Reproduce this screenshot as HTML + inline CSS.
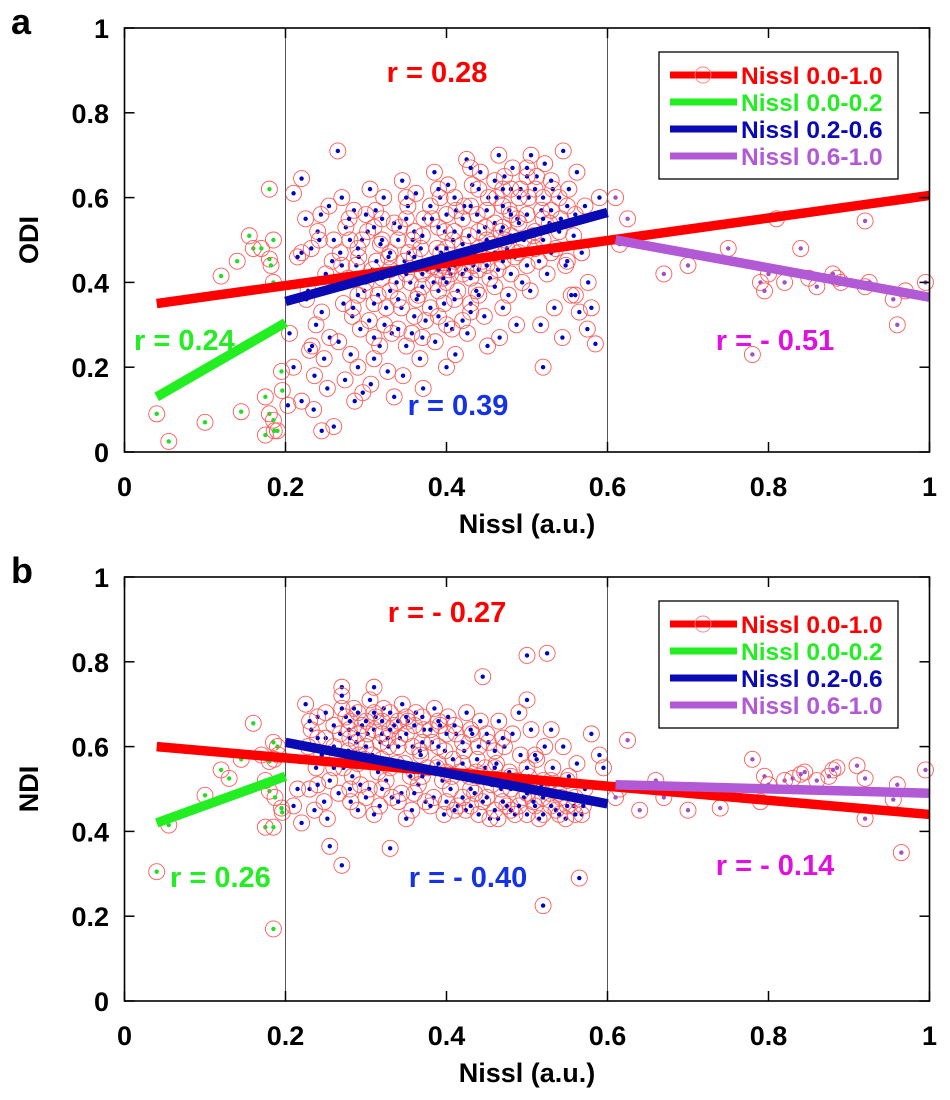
<!DOCTYPE html>
<html><head><meta charset="utf-8"><style>
html,body{margin:0;padding:0;background:#fff;}
svg{display:block;font-family:"Liberation Sans",Arial,sans-serif;}
.tk{font-size:27px;font-weight:bold;fill:#000;}
.lg{font-size:24.5px;font-weight:bold;}
.rl{font-size:29px;font-weight:bold;}
</style></head><body>
<svg id="chart" width="950" height="1100" viewBox="0 0 950 1100">
<rect width="950" height="1100" fill="#fff"/>
<g id="panelA"></g>
<g id="panelB"></g>
</svg>
<script>
// ---- data ----
const xTicks = [0, 0.2, 0.4, 0.6, 0.8, 1];
const yTicks = [0, 0.2, 0.4, 0.6, 0.8, 1];
const xTickLabels = ["0", "0.2", "0.4", "0.6", "0.8", "1"];
const yTickLabels = ["0", "0.2", "0.4", "0.6", "0.8", "1"];
const legendLabels = ["Nissl 0.0-1.0", "Nissl 0.0-0.2", "Nissl 0.2-0.6", "Nissl 0.6-1.0"];

const odiPoints = [
[0.04,0.09],[0.055,0.025],[0.1,0.07],[0.12,0.415],[0.14,0.45],[0.145,0.095],[0.155,0.51],[0.16,0.48],[0.17,0.48],[0.175,0.13],[0.18,0.62],[0.18,0.455],[0.182,0.44],[0.185,0.40],[0.18,0.09],[0.175,0.04],[0.186,0.05],[0.19,0.05],[0.185,0.5],[0.195,0.19],[0.196,0.145],[0.185,0.075],
[0.61,0.6],[0.625,0.55],[0.615,0.49],[0.67,0.42],[0.7,0.44],[0.75,0.48],[0.78,0.23],[0.79,0.4],[0.795,0.38],[0.80,0.42],[0.81,0.55],[0.82,0.4],[0.84,0.48],[0.85,0.41],[0.86,0.39],[0.88,0.42],[0.885,0.41],[0.89,0.40],[0.92,0.39],[0.925,0.40],[0.92,0.545],[0.955,0.36],[0.96,0.3],[0.97,0.38],[0.995,0.4],
[0.21,0.61],[0.22,0.645],[0.265,0.71],[0.22,0.47],[0.215,0.46],[0.205,0.28],[0.21,0.2],[0.203,0.11],[0.22,0.12],[0.235,0.1],[0.245,0.05],[0.26,0.06],[0.585,0.255],[0.52,0.2],[0.59,0.6],[0.56,0.37],[0.58,0.34],[0.575,0.29],
[0.225,0.55],[0.24,0.52],[0.232,0.48],[0.25,0.42],[0.228,0.38],[0.245,0.33],[0.238,0.30],[0.255,0.27],[0.23,0.24],[0.248,0.22],[0.236,0.18],[0.252,0.15],[0.242,0.5],[0.258,0.45],[0.226,0.36],[0.254,0.58],[0.244,0.56],[0.233,0.25],
[0.27,0.6],[0.285,0.57],[0.275,0.53],[0.295,0.5],[0.268,0.47],[0.288,0.44],[0.278,0.41],[0.298,0.38],[0.272,0.35],[0.283,0.32],[0.293,0.29],[0.266,0.26],[0.281,0.23],[0.29,0.2],[0.274,0.17],[0.296,0.14],[0.286,0.12],[0.279,0.55],[0.291,0.46],[0.269,0.4],[0.284,0.34],
[0.305,0.62],[0.322,0.6],[0.312,0.57],[0.335,0.54],[0.302,0.52],[0.318,0.49],[0.328,0.46],[0.308,0.43],[0.338,0.4],[0.315,0.37],[0.325,0.34],[0.304,0.31],[0.332,0.28],[0.317,0.25],[0.31,0.22],[0.327,0.19],[0.306,0.16],[0.335,0.13],[0.32,0.5],[0.313,0.45],[0.33,0.38],[0.323,0.3],
[0.345,0.64],[0.362,0.61],[0.352,0.58],[0.372,0.55],[0.342,0.53],[0.358,0.5],[0.368,0.48],[0.348,0.45],[0.376,0.43],[0.355,0.4],[0.365,0.37],[0.344,0.34],[0.374,0.31],[0.357,0.28],[0.35,0.25],[0.367,0.22],[0.346,0.18],[0.371,0.15],[0.36,0.52],[0.353,0.47],[0.37,0.42],[0.363,0.36],
[0.385,0.66],[0.402,0.63],[0.392,0.6],[0.412,0.57],[0.382,0.55],[0.398,0.52],[0.408,0.5],[0.388,0.48],[0.416,0.46],[0.395,0.44],[0.405,0.42],[0.384,0.4],[0.414,0.38],[0.397,0.35],[0.39,0.32],[0.407,0.29],[0.386,0.26],[0.411,0.23],[0.4,0.2],[0.393,0.47],[0.41,0.45],[0.403,0.43],[0.396,0.41],
[0.425,0.69],[0.442,0.66],[0.432,0.63],[0.452,0.6],[0.422,0.58],[0.438,0.56],[0.448,0.53],[0.428,0.51],[0.456,0.49],[0.435,0.47],[0.445,0.45],[0.424,0.43],[0.454,0.41],[0.437,0.38],[0.43,0.35],[0.447,0.32],[0.426,0.28],[0.451,0.25],[0.44,0.48],[0.433,0.44],
[0.465,0.7],[0.482,0.67],[0.472,0.65],[0.492,0.62],[0.462,0.6],[0.478,0.57],[0.488,0.55],[0.468,0.52],[0.496,0.5],[0.475,0.48],[0.485,0.46],[0.464,0.43],[0.494,0.4],[0.477,0.37],[0.47,0.34],[0.487,0.3],[0.466,0.27],[0.48,0.56],[0.473,0.5],
[0.505,0.7],[0.522,0.68],[0.512,0.65],[0.532,0.62],[0.502,0.6],[0.518,0.57],[0.528,0.54],[0.508,0.51],[0.536,0.48],[0.515,0.45],[0.525,0.42],[0.504,0.38],[0.534,0.34],[0.517,0.3],[0.52,0.55],
[0.545,0.71],[0.562,0.66],[0.552,0.62],[0.572,0.58],[0.542,0.55],[0.558,0.51],[0.568,0.47],[0.548,0.44],[0.576,0.4],[0.555,0.37],[0.565,0.33],[0.544,0.27]
];
const odiExtra = [
[0.3,0.56],[0.31,0.53],[0.32,0.41],[0.33,0.47],[0.34,0.5],[0.34,0.36],[0.35,0.55],[0.35,0.42],[0.36,0.46],[0.36,0.32],[0.37,0.51],[0.37,0.39],[0.38,0.58],[0.38,0.44],[0.38,0.34],[0.39,0.53],[0.39,0.43],[0.39,0.38],[0.4,0.56],[0.4,0.48],[0.4,0.4],[0.41,0.6],[0.41,0.52],[0.41,0.44],[0.41,0.36],[0.42,0.55],[0.42,0.49],[0.42,0.42],[0.42,0.31],[0.43,0.58],[0.43,0.46],[0.43,0.41],[0.44,0.62],[0.44,0.52],[0.44,0.43],[0.44,0.37],[0.45,0.57],[0.45,0.5],[0.45,0.44],[0.46,0.64],[0.46,0.54],[0.46,0.47],[0.46,0.39],[0.47,0.58],[0.47,0.53],[0.47,0.45],[0.48,0.62],[0.48,0.51],[0.48,0.42],[0.49,0.6],[0.49,0.54],[0.49,0.47],[0.5,0.65],[0.5,0.56],[0.5,0.44],[0.51,0.62],[0.51,0.52],[0.51,0.48],[0.52,0.6],[0.52,0.5],[0.53,0.57],[0.53,0.47],[0.54,0.6],[0.54,0.52],[0.55,0.58],[0.55,0.45],[0.56,0.56],[0.29,0.48],[0.28,0.5],[0.3,0.4],[0.31,0.35],[0.32,0.55],[0.33,0.43],[0.26,0.5],[0.27,0.44],[0.29,0.37],[0.31,0.27],[0.34,0.29],[0.37,0.27],[0.4,0.3],[0.43,0.33],[0.35,0.6],[0.39,0.62],[0.43,0.67],[0.47,0.62],[0.53,0.64],[0.5,0.67]
];

const ndiPoints = [
[0.04,0.305],[0.055,0.415],[0.1,0.485],[0.12,0.545],[0.13,0.525],[0.145,0.57],[0.16,0.655],[0.17,0.58],[0.175,0.52],[0.18,0.565],[0.185,0.61],[0.19,0.6],[0.186,0.57],[0.18,0.495],[0.187,0.48],[0.175,0.41],[0.185,0.41],[0.185,0.17],[0.195,0.455],[0.196,0.445],[0.191,0.58],
[0.615,0.5],[0.625,0.615],[0.61,0.48],[0.64,0.45],[0.66,0.52],[0.67,0.48],[0.7,0.45],[0.74,0.455],[0.78,0.57],[0.79,0.47],[0.795,0.53],[0.8,0.51],[0.82,0.52],[0.83,0.525],[0.84,0.535],[0.845,0.54],[0.86,0.52],[0.875,0.53],[0.88,0.545],[0.885,0.55],[0.91,0.555],[0.92,0.525],[0.92,0.43],[0.955,0.475],[0.96,0.51],[0.965,0.35],[0.995,0.545],
[0.445,0.765],[0.5,0.815],[0.525,0.82],[0.27,0.74],[0.31,0.74],[0.52,0.225],[0.565,0.29],[0.255,0.365],[0.27,0.32],[0.33,0.36],[0.49,0.68],[0.5,0.71],[0.53,0.64],[0.58,0.63],[0.59,0.58],[0.595,0.55],[0.21,0.46],[0.22,0.42],[0.215,0.5],
[0.225,0.7],[0.24,0.67],[0.232,0.64],[0.25,0.62],[0.228,0.6],[0.245,0.58],[0.238,0.55],[0.255,0.52],[0.23,0.5],[0.248,0.47],[0.236,0.45],[0.252,0.43],
[0.27,0.72],[0.285,0.69],[0.275,0.67],[0.295,0.65],[0.268,0.63],[0.288,0.61],[0.278,0.59],[0.298,0.57],[0.272,0.55],[0.283,0.53],[0.293,0.51],[0.266,0.49],[0.281,0.47],[0.29,0.45],[0.279,0.64],[0.291,0.58],
[0.305,0.71],[0.322,0.69],[0.312,0.67],[0.335,0.65],[0.302,0.63],[0.318,0.61],[0.328,0.6],[0.308,0.58],[0.338,0.56],[0.315,0.54],[0.325,0.52],[0.304,0.5],[0.332,0.48],[0.317,0.46],[0.31,0.44],[0.327,0.62],[0.32,0.57],
[0.345,0.7],[0.362,0.68],[0.352,0.66],[0.372,0.64],[0.342,0.62],[0.358,0.6],[0.368,0.58],[0.348,0.56],[0.376,0.55],[0.355,0.53],[0.365,0.51],[0.344,0.49],[0.374,0.47],[0.357,0.45],[0.35,0.43],[0.367,0.59],[0.36,0.54],
[0.385,0.69],[0.402,0.67],[0.392,0.65],[0.412,0.63],[0.382,0.61],[0.398,0.59],[0.408,0.57],[0.388,0.55],[0.416,0.54],[0.395,0.52],[0.405,0.5],[0.384,0.48],[0.414,0.46],[0.397,0.44],[0.39,0.56],[0.407,0.53],
[0.425,0.68],[0.442,0.66],[0.432,0.63],[0.452,0.61],[0.422,0.59],[0.438,0.57],[0.448,0.55],[0.428,0.53],[0.456,0.51],[0.435,0.49],[0.445,0.47],[0.424,0.45],[0.454,0.43],[0.437,0.54],[0.43,0.5],
[0.465,0.66],[0.482,0.63],[0.472,0.6],[0.492,0.58],[0.462,0.56],[0.478,0.54],[0.488,0.52],[0.468,0.5],[0.496,0.48],[0.475,0.46],[0.485,0.44],[0.464,0.43],[0.48,0.53],
[0.505,0.64],[0.522,0.6],[0.512,0.57],[0.532,0.55],[0.502,0.53],[0.518,0.51],[0.528,0.49],[0.508,0.47],[0.536,0.45],[0.515,0.43],[0.52,0.52],
[0.545,0.6],[0.562,0.56],[0.552,0.53],[0.572,0.5],[0.542,0.48],[0.558,0.46],[0.568,0.44],[0.548,0.43]
];
const ndiExtra = [
[0.23,0.66],[0.24,0.62],[0.25,0.68],[0.26,0.65],[0.26,0.6],[0.27,0.69],[0.28,0.66],[0.28,0.62],[0.29,0.68],[0.29,0.63],[0.3,0.66],[0.3,0.6],[0.31,0.68],[0.31,0.64],[0.32,0.66],[0.32,0.63],[0.33,0.68],[0.33,0.64],[0.34,0.66],[0.34,0.6],[0.35,0.67],[0.35,0.63],[0.36,0.65],[0.37,0.67],[0.37,0.61],[0.38,0.64],[0.39,0.66],[0.39,0.6],[0.4,0.63],[0.41,0.65],[0.42,0.61],[0.43,0.64],[0.44,0.6],[0.45,0.63],[0.46,0.59],[0.47,0.62],[0.28,0.5],[0.3,0.48],[0.32,0.5],[0.34,0.47],[0.36,0.49],[0.38,0.46],[0.4,0.47],[0.41,0.45],[0.42,0.48],[0.43,0.46],[0.44,0.44],[0.45,0.48],[0.46,0.45],[0.47,0.47],[0.48,0.45],[0.49,0.46],[0.5,0.44],[0.5,0.49],[0.51,0.46],[0.52,0.44],[0.52,0.48],[0.53,0.46],[0.54,0.44],[0.54,0.49],[0.55,0.46],[0.56,0.44],[0.56,0.48],[0.57,0.46],[0.44,0.53],[0.46,0.55],[0.48,0.5],[0.5,0.55],[0.51,0.58],[0.53,0.52],[0.55,0.52],[0.4,0.54],[0.42,0.56],[0.37,0.53],[0.33,0.55],[0.29,0.56],[0.26,0.55],[0.24,0.51]
];

// regression lines [x0,y0,x1,y1]
const odiFits = [[0.04,0.35,1,0.605],[0.04,0.13,0.2,0.305],[0.2,0.355,0.6,0.565],[0.61,0.50,1,0.365]];
const ndiFits = [[0.04,0.60,1,0.44],[0.04,0.42,0.2,0.53],[0.2,0.61,0.6,0.465],[0.61,0.51,1,0.49]];
const odiR = ["r = 0.28","r = 0.24","r = 0.39","r = - 0.51"];
const ndiR = ["r = - 0.27","r = 0.26","r = - 0.40","r = - 0.14"];

// ---- drawing ----
const NS = "http://www.w3.org/2000/svg";
const fitColors = ["#ff0000","#22ee22","#0a0ab4","#b25ad6"];
const legendColors = ["#ff0000","#22ee22","#0a0ab4","#b25ad6"];
const rColors = ["#ff0000","#22ee22","#1533e6","#e010e0"];
const X0 = 124.5, XW = 805, H = 424;
function sx(v){ return X0 + v*XW; }
function mk(tag, attrs, parent){ const e=document.createElementNS(NS,tag); for(const k in attrs) e.setAttribute(k,attrs[k]); parent.appendChild(e); return e; }

function drawPanel(g, yBase, points, fits, rLabels, rPos, letter, yTitle){
  const sy = v => yBase - v*H;
  const top = sy(1);
  const sg = mk("g",{},g);
  
  
  points.forEach(p=>{
    const c = mk("circle",{cx:sx(p[0]),cy:sy(p[1]),r:8,fill:"none",stroke:"#ff5a5a","stroke-width":0.9},sg);
    
    
    const col = p[0] < 0.2 ? "#22dd22" : (p[0] <= 0.6 ? "#0000c8" : "#a050c8");
    const d = mk("circle",{cx:sx(p[0]),cy:sy(p[1]),r:2.2,fill:col},sg);
    
    
  });
  [0.2,0.6].forEach(v=>{
    const l = mk("line",{x1:sx(v),x2:sx(v),y1:top,y2:yBase,stroke:"#555","stroke-width":1},g);
    
    
  });
  fits.forEach((f,i)=>{
    const l = mk("line",{x1:sx(f[0]),y1:sy(f[1]),x2:sx(f[2]),y2:sy(f[3]),stroke:fitColors[i],"stroke-width":9.5},g);
    
    
  });
  const box = mk("rect",{x:X0,y:top,width:XW,height:H,fill:"none",stroke:"#000","stroke-width":1.6},g);
  
  
  xTicks.forEach((v,i)=>{
    mk("line",{x1:sx(v),x2:sx(v),y1:yBase,y2:yBase-10,stroke:"#000","stroke-width":1.5},g);
    mk("line",{x1:sx(v),x2:sx(v),y1:top,y2:top+10,stroke:"#000","stroke-width":1.5},g);
    const t = mk("text",{x:sx(v),y:yBase+44,"text-anchor":"middle",class:"tk"},g);
    t.textContent = xTickLabels[i];
    
    
  });
  yTicks.forEach((v,i)=>{
    mk("line",{x1:X0,x2:X0+10,y1:sy(v),y2:sy(v),stroke:"#000","stroke-width":1.5},g);
    mk("line",{x1:X0+XW,x2:X0+XW-10,y1:sy(v),y2:sy(v),stroke:"#000","stroke-width":1.5},g);
    const t = mk("text",{x:109,y:sy(v)+10,"text-anchor":"end",class:"tk"},g);
    t.textContent = yTickLabels[i];
    
    
  });
  const xt = mk("text",{x:527,y:yBase+81,"text-anchor":"middle",class:"tk"},g);
  xt.textContent = "Nissl (a.u.)";
  
  
  const yt = mk("text",{x:0,y:0,"text-anchor":"middle",class:"tk",transform:"translate(38,"+(yBase-H/2)+") rotate(-90)"},g);
  yt.textContent = yTitle;
  
  
  const lt = mk("text",{x:11,y:top+6,style:"font-size:36px;font-weight:bold"},g);
  lt.textContent = letter;
  
  
  rLabels.forEach((s,i)=>{
    const t = mk("text",{x:rPos[i][0],y:rPos[i][1],"text-anchor":rPos[i][2],class:"rl",fill:rColors[i]},g);
    t.textContent = s;
    
    
  });
  const lg = mk("g",{},g);
  
  
  const ly = top + 24;
  mk("rect",{x:659,y:ly,width:239,height:127,fill:"#fff",stroke:"#000","stroke-width":1.3},lg);
  legendLabels.forEach((s,i)=>{
    const yy = ly + 23 + i*27;
    const e = mk("g",{},lg);
    
    
    mk("line",{x1:670,x2:737,y1:yy,y2:yy,stroke:legendColors[i],"stroke-width":7},e);
    if(i===0) mk("circle",{cx:703,cy:yy,r:8,fill:"none",stroke:"#ff8080","stroke-width":0.9},e);
    const t = mk("text",{x:741,y:yy+9,class:"lg",fill:legendColors[i]},e);
    t.textContent = s;
  });
}

drawPanel(document.getElementById("panelA"), 452, odiPoints.concat(odiExtra), odiFits, odiR,
  [[437,82,"middle"],[134,350,"start"],[458,415,"middle"],[775,350,"middle"]], "a", "ODI");
drawPanel(document.getElementById("panelB"), 1001, ndiPoints.concat(ndiExtra), ndiFits, ndiR,
  [[447,622,"middle"],[170,887,"start"],[468,887,"middle"],[775,875,"middle"]], "b", "NDI");
</script>
</body></html>
